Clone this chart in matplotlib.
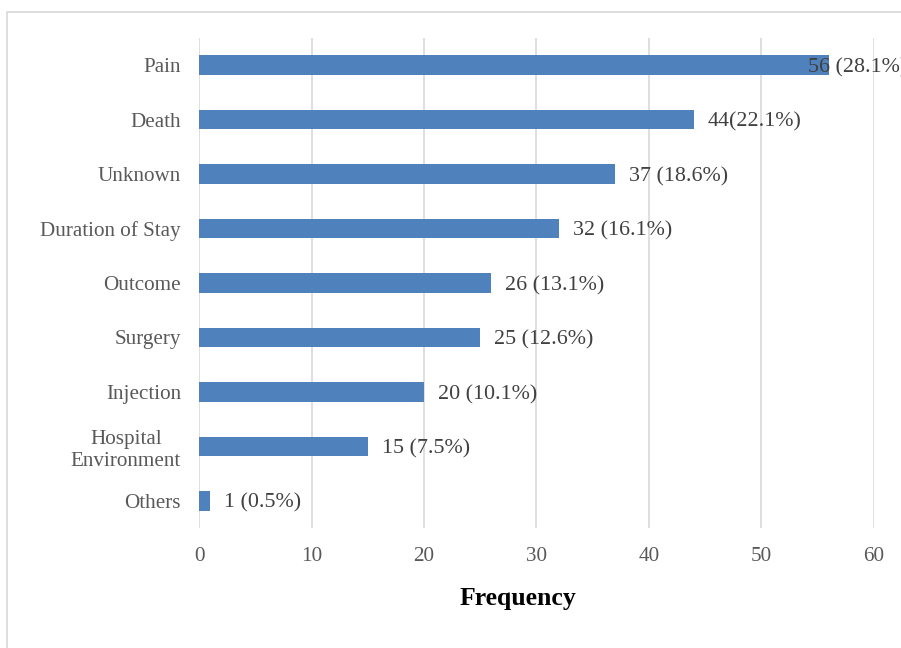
import matplotlib
matplotlib.use('Agg')
from matplotlib import pyplot as plt
from matplotlib.patches import Rectangle

# Data
categories = ['Pain', 'Death', 'Unknown', 'Duration of Stay', 'Outcome',
              'Surgery', 'Injection', 'Hospital\nEnvironment', 'Others']
counts = [56, 44, 37, 32, 26, 25, 20, 15, 1]
labels = ['56 (28.1%)', '44(22.1%)', '37 (18.6%)', '32 (16.1%)', '26 (13.1%)',
          '25 (12.6%)', '20 (10.1%)', '15 (7.5%)', '1 (0.5%)']
xticks = [0, 10, 20, 30, 40, 50, 60]

plt.rcParams['font.family'] = ['Liberation Serif', 'DejaVu Serif']

fig = plt.figure(figsize=(9.01, 6.48), dpi=100)
ax = fig.add_axes([0.2209, 0.1852, 0.749, 0.7562])

# chart border (light gray box, cut off at right/bottom)
fig.patches.append(Rectangle((7 / 901, -0.1), 1.2, 1 - 12 / 648 + 0.1,
                             transform=fig.transFigure, fill=False,
                             edgecolor='#D9D9D9', linewidth=1.2))

y = list(range(len(categories)))
ax.barh(y, counts, height=0.36, color='#4F81BD', zorder=3)

for i, (c, lab) in enumerate(zip(counts, labels)):
    # Pain label sits over the bar end in the original
    off = -21 if i == 0 else 14
    ax.annotate(lab, (c, i), xytext=(off * 0.72, 0), textcoords='offset points',
                va='center_baseline', ha='left', fontsize=15.8, color='#404040', zorder=4)

ax.set_xlim(0, 60)
ax.set_ylim(len(categories) - 0.5, -0.5)
ax.set_xticks(xticks)
ax.set_yticks(y)
ax.set_yticklabels(categories)
for t in ax.get_yticklabels():
    t.set_multialignment('center')
    t.set_linespacing(1.2)

ax.tick_params(axis='both', length=0, labelsize=15.2, labelcolor='#595959')
ax.tick_params(axis='y', pad=13)
ax.tick_params(axis='x', pad=14)
ax.grid(axis='x', color='#D9D9D9', linewidth=1.2, zorder=0)
for s in ax.spines.values():
    s.set_visible(False)

ax.set_xlabel('Frequency', fontsize=18.5, fontweight='bold', color='black')
ax.xaxis.set_label_coords(0.4726, -0.121)

fig.savefig('out.png', dpi=100)
